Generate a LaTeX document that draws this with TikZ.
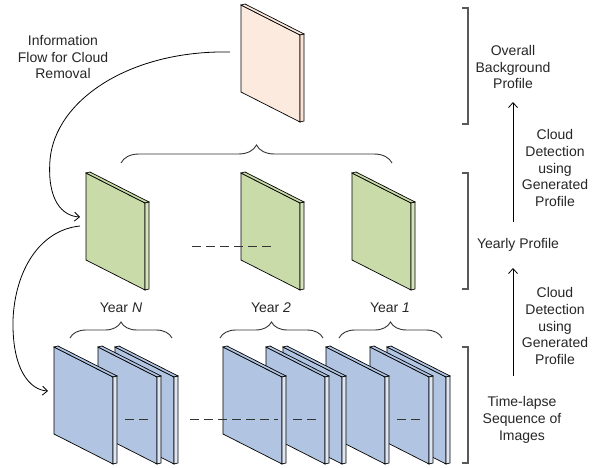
\documentclass[tikz,border=0pt]{standalone}
\usepackage{fontspec}
\setmainfont{Liberation Sans}
\usetikzlibrary{arrows.meta,decorations.pathreplacing}

\definecolor{pinkFront}{HTML}{FCEADF}
\definecolor{pinkSide}{HTML}{FBE3D4}
\definecolor{greenFront}{HTML}{C9DBA9}
\definecolor{greenSide}{HTML}{D6E4BE}
\definecolor{blueFront}{HTML}{B1C5E3}
\definecolor{blueSide}{HTML}{DDE6F2}

\tikzset{
  pics/pane/.style args={#1/#2}{code={
    \filldraw[fill=#1] (0,0) -- (59,30) -- (59,117) -- (0,87) -- cycle;
    \filldraw[fill=#1] (0,0) -- (4,-1) -- (63,29) -- (59,30) -- cycle;
    \filldraw[fill=#2] (59,30) -- (63,29) -- (63,116) -- (59,117) -- cycle;
    \coordinate (-in) at (-6,44);
    \coordinate (-out) at (-6,53);
  }},
  note/.style={align=center, inner sep=0pt, text=black!85},
  bracket/.style={draw=black!65, line width=1.2pt},
  brace/.style={decorate, decoration={brace, amplitude=#1}, draw=black!80, line width=0.9pt},
  dashline/.style={draw=black!80, line width=0.9pt, dash pattern=on 9pt off 5pt},
  flow/.style={->, line width=0.8pt},
}

\begin{document}
\begin{tikzpicture}[x=1pt, y=-1pt, >={Straight Barb[length=5pt,width=9pt]},
    font=\fontsize{14}{16.7}\selectfont, line width=0.7pt]
    \useasboundingbox (0,0) rectangle (608,468);

    % overall profile
    \pic (top) at (241,5) {pane={pinkFront/pinkSide}};
    \coordinate (flowStart) at (230,52);

    % yearly profiles
    \pic (gN) at (86,173) {pane={greenFront/greenSide}};
    \pic (g2) at (241,173) {pane={greenFront/greenSide}};
    \pic (g1) at (352,173) {pane={greenFront/greenSide}};
    \draw[dashline] (192,246) -- (272,246);

    % time-lapse images, back to front
    \foreach \x/\n in {387/b9,370/b8,326/b7,283/b6,266/b5,223/b4,115/b3,98/b2,54/b1}
        \pic (\n) at (\x,347) {pane={blueFront/blueSide}};
    \draw[dashline] (125,419) -- (148,419);
    \draw[dashline] (190,419) -- (278,419);
    \draw[dashline] (293,419) -- (317,419);
    \draw[dashline] (397,419) -- (420,419);

    % braces
    \draw[brace=18pt] (121,163) -- (392,163);
    \draw[brace=16pt] (70,338) -- (172,338);
    \draw[brace=16pt] (220,338) -- (323,338);
    \draw[brace=16pt] (339,338) -- (442,338);
    \node[note] (yN) at (121,308) {Year \textit{N}};
    \node[note] (y2) at (271,308) {Year \textit{2}};
    \node[note] (y1) at (390,308) {Year \textit{1}};

    % information flow
    \node[note] (flowText) at (63,57) {Information\\Flow for Cloud\\Removal};
    \draw[flow] (flowStart) .. controls (130,50) and (55,100) .. (50,160)
        .. controls (47,200) and (62,216) .. (gN-in);
    \draw[flow] (gN-out) .. controls (40,230) and (15,270) .. (13,320)
        .. controls (12,370) and (30,390) .. (b1-in);

    % levels on the right
    \draw[bracket] (462,8) -- (468,8) -- (468,124) -- (462,124);
    \draw[bracket] (462,173) -- (468,173) -- (468,289) -- (462,289);
    \draw[bracket] (462,347) -- (468,347) -- (468,463) -- (462,463);
    \node[note] (overall) at (513,67) {Overall\\Background\\Profile};
    \node[note] (yearly) at (518,245) {Yearly Profile};
    \node[note] (series) at (522,420) {Time-lapse\\Sequence of\\Images};
    \coordinate (up1) at (513,222);
    \coordinate (up2) at (513,376);
    \draw[flow] (up1) -- (513,102);
    \draw[flow] (up2) -- (513,268);
    \node[note] (detect1) at (555,168) {Cloud\\Detection\\using\\Generated\\Profile};
    \node[note] (detect2) at (555,326) {Cloud\\Detection\\using\\Generated\\Profile};
\end{tikzpicture}
\end{document}
